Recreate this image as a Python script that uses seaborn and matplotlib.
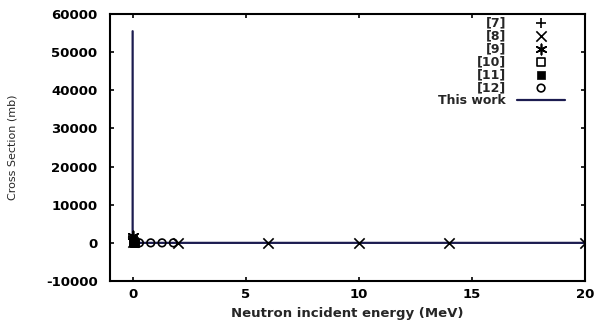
import numpy as np
import pandas as pd
import matplotlib
matplotlib.use("Agg")
import matplotlib.pyplot as plt
import seaborn as sns

# Evaluated cross section ("This work"), energies in MeV, cross sections in mb
work_energy = [1e-11, 1e-9, 2.53e-8, 1e-7, 1e-6, 1e-5, 1e-4, 1e-3, 1e-2, 0.1, 0.5, 1.0, 2.0, 5.0, 10.0, 14.0, 20.0]
work_xs = [55500, 8800, 1750, 880, 280, 88, 28, 8.8, 2.8, 0.9, 0.4, 0.3, 0.2, 0.1, 0.05, 0.04, 0.03]

# Experimental data sets
ref7_energy = [2.53e-8, 0.0]
ref7_xs = [1700, 1650]
ref8_energy = [0.02, 2.0, 6.0, 10.0, 14.0, 20.0]
ref8_xs = [200, 0.2, 0.1, 0.05, 0.04, 0.03]
ref9_energy = [2.53e-8]
ref9_xs = [1720]
ref10_energy = [0.05, 0.1]
ref10_xs = [60, 20]
ref11_energy = [2.53e-8, 0.05, 0.1]
ref11_xs = [100, 40, 10]
ref12_energy = [0.3, 0.8, 1.3, 1.8]
ref12_xs = [1.0, 0.3, 0.25, 0.2]

labels = ["[7]", "[8]", "[9]", "[10]", "[11]", "[12]", "This work"]

sns.set_style("ticks", {"xtick.direction": "in", "ytick.direction": "in"})
plt.rcParams["font.family"] = ["DejaVu Sans"]
plt.rcParams["axes.unicode_minus"] = False
plt.rcParams["xtick.top"] = True
plt.rcParams["ytick.right"] = True

fig = plt.figure(figsize=(5.96, 3.24), dpi=100)
ax = fig.add_axes([0.1846, 0.1327, 0.797, 0.824])

ink = "black"
line_col = "#1c1c50"

def scatter(x, y, marker, label, filled=False, size=36, lw=1.2):
    df = pd.DataFrame({"E": x, "xs": y})
    kw = dict(data=df, x="E", y="xs", marker=marker, s=size, ax=ax, label=label, zorder=3)
    if filled:
        sns.scatterplot(color=ink, edgecolor=ink, linewidth=0.5, **kw)
    elif marker in ("+", "x", (6, 2, 0)):
        sns.scatterplot(color=ink, linewidth=lw, **kw)
    else:
        sns.scatterplot(facecolor="none", edgecolor=ink, linewidth=lw, **kw)

scatter(ref7_energy, ref7_xs, "+", labels[0], size=55)
scatter(ref8_energy, ref8_xs, "x", labels[1], size=55)
scatter(ref9_energy, ref9_xs, (6, 2, 0), labels[2], size=55)
scatter(ref10_energy, ref10_xs, "s", labels[3], size=32)
scatter(ref11_energy, ref11_xs, "s", labels[4], filled=True, size=40)
scatter(ref12_energy, ref12_xs, "o", labels[5], size=30)

work_df = pd.DataFrame({"E": work_energy, "xs": work_xs})
sns.lineplot(data=work_df, x="E", y="xs", ax=ax, color=line_col, linewidth=1.6,
             label=labels[6], zorder=2, sort=False)

ax.set_xlim(-1, 20)
ax.set_ylim(-10000, 60000)
ax.set_xticks([0, 5, 10, 15, 20])
ax.set_yticks(np.arange(-10000, 60001, 10000))
ax.tick_params(axis="both", length=3, width=1.2, colors=ink, labelsize=9.5)
ax.tick_params(axis="y", pad=9)
ax.tick_params(axis="x", pad=5)
for lab in ax.get_xticklabels() + ax.get_yticklabels():
    lab.set_fontweight("bold")
for sp in ax.spines.values():
    sp.set_visible(True)
    sp.set_linewidth(1.5)
    sp.set_color(ink)

ax.set_xlabel("Neutron incident energy (MeV)", fontsize=9.5, fontweight="bold", labelpad=4)
ax.set_ylabel("Cross Section (mb)", fontsize=8, labelpad=20)

# Key in gnuplot style: labels right-aligned, sample on the right
ax.legend(loc="upper right", bbox_to_anchor=(0.968, 1.010), frameon=False,
          markerfirst=False, labelspacing=0.0, handlelength=3.8,
          handletextpad=0.9, borderaxespad=0.0,
          prop={"weight": "bold", "size": 9})

fig.savefig("out.png", dpi=100)
